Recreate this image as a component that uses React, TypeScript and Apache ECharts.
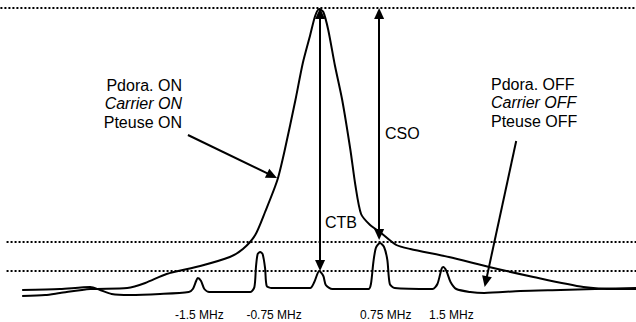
import React, { useEffect, useRef } from "react";
import * as echarts from "echarts";

// x in MHz from the carrier, y in dB relative to the carrier peak
const onCurve: [number, number][] = [
  [-3.63, -72], [-3.35, -71.75], [-3.17, -71.25], [-2.8, -70.25], [-2.35, -70],
  [-2.13, -68.75], [-1.87, -66.5], [-1.46, -64.5], [-1.1, -62.25], [-0.94, -60.25],
  [-0.79, -56.75], [-0.67, -51], [-0.52, -43], [-0.43, -35.5], [-0.3, -23],
  [-0.21, -13.75], [-0.12, -6.75], [-0.06, -2], [-0.01, -0.25], [0.04, -1],
  [0.1, -5.5], [0.18, -14.25], [0.27, -23], [0.37, -35.5], [0.43, -44.25],
  [0.5, -51.5], [0.61, -54.25], [0.73, -56], [0.93, -59.25], [1.1, -60.25],
  [1.57, -62.25], [2.06, -64.75], [2.6, -67.25], [3.21, -69.75], [3.61, -70.25],
  [3.85, -70.25],
];

const offCurve: [number, number][] = [
  [-3.63, -70.5], [-3.17, -70.25], [-2.8, -69.75], [-2.68, -70.5], [-2.54, -71.5],
  [-2.32, -71.75], [-1.95, -71.5], [-1.6, -71], [-1.55, -70.25], [-1.51, -68.25],
  [-1.49, -67.5], [-1.45, -68.25], [-1.41, -70.25], [-1.35, -71], [-0.85, -71],
  [-0.8, -69.75], [-0.78, -64.5], [-0.76, -61.5], [-0.73, -61], [-0.7, -61.5],
  [-0.67, -65], [-0.65, -69.5], [-0.59, -70], [-0.12, -70], [-0.07, -68.5],
  [-0.01, -65.75], [0.04, -67], [0.07, -69.25], [0.15, -70.25], [0.59, -70.25],
  [0.62, -69], [0.65, -63.5], [0.68, -60], [0.73, -58.75], [0.78, -59.75],
  [0.82, -63], [0.85, -69], [0.91, -70], [1.37, -70.25], [1.43, -69],
  [1.48, -65.25], [1.5, -64.75], [1.54, -65.75], [1.59, -68.5], [1.66, -70.25],
  [1.83, -71], [2.0, -71.25], [2.44, -70.75], [2.93, -70.5], [3.85, -70],
];

const tickLabels = ["-1.5 MHz", "-0.75 MHz", "0.75 MHz", "1.5 MHz"];
const tickLabelAt = [-1.47, -0.56, 0.8, 1.6];
const refLevels = [-58.5, -65.75, 0];
const refStarts = [-3.82, -3.82, -3.895];
const ctbArrow = { x: 0, top: -1.4, bottom: -64.4 };
const csoArrow = { x: 0.72, top: -1.4, bottom: -56.6 };
const onPointer = { from: [-1.61, -31.75], to: [-0.585, -41.9] };
const offPointer = { from: [2.39, -33.25], to: [2.02, -68.4] };
const onLabel = ["Pdora. ON", "Carrier ON", "Pteuse ON"];
const offLabel = ["Pdora. OFF", "Carrier OFF", "Pteuse OFF"];

const X_MIN = -3.9;
const X_MAX = 3.85;
const FONT = "'Liberation Sans', Arial, Helvetica, sans-serif";

export default function App() {
  const ref = useRef<HTMLDivElement>(null);
  useEffect(() => {
    if (!ref.current) return;
    const chart = echarts.init(ref.current, undefined, { renderer: "svg" });
    const dotted = { color: "#000", width: 2, type: [2, 2] as any };
    const arrowStyle = { color: "#000", width: 2, type: "solid" as any };
    const mk = (a: number[], b: number[], sa: string, sb: string) => [
      { coord: a, symbol: sa },
      { coord: b, symbol: sb },
    ];
    const textEl = (t: string, x: number, y: number, align: string, italic = false) => ({
      type: "text",
      x,
      y,
      style: {
        text: t,
        fill: "#000",
        font: `${italic ? "italic " : ""}16px ${FONT}`,
        align,
        verticalAlign: "middle",
      },
    });
    const refSeries = refLevels.map((lv, i) => ({
      type: "line",
      data: [
        [refStarts[i], lv],
        [X_MAX, lv],
      ],
      symbol: "none",
      silent: true,
      clip: false,
      lineStyle: dotted,
    }));
    chart.setOption({
      animation: false,
      backgroundColor: "#fff",
      grid: { left: 0, right: 0, top: 4, bottom: 26, outerBoundsMode: "none" },
      xAxis: {
        type: "value",
        min: X_MIN,
        max: X_MAX,
        axisLine: { show: false },
        axisTick: { show: false },
        splitLine: { show: false },
        axisLabel: {
          customValues: tickLabelAt,
          formatter: (v: number) => {
            const i = tickLabelAt.findIndex((p) => Math.abs(p - v) < 1e-6);
            return i >= 0 ? tickLabels[i] : "";
          },
          fontSize: 12,
          lineHeight: 12,
          fontFamily: FONT,
          color: "#000",
          margin: 13,
        },
      },
      yAxis: {
        type: "value",
        min: -72,
        max: 1,
        show: false,
      },
      series: [
        ...refSeries,
        {
          type: "line",
          data: onCurve,
          smooth: 0.25,
          symbol: "none",
          lineStyle: { color: "#000", width: 2 },
        },
        {
          type: "line",
          data: offCurve,
          smooth: 0.25,
          symbol: "none",
          lineStyle: { color: "#000", width: 2 },
          markLine: {
            silent: true,
            symbolSize: [10, 11],
            label: { show: false },
            lineStyle: arrowStyle,
            data: [
              mk([ctbArrow.x, ctbArrow.top], [ctbArrow.x, ctbArrow.bottom], "triangle", "triangle"),
              mk([csoArrow.x, csoArrow.top], [csoArrow.x, csoArrow.bottom], "triangle", "triangle"),
              mk(onPointer.from, onPointer.to, "none", "triangle"),
              mk(offPointer.from, offPointer.to, "none", "triangle"),
            ],
          },
        },
      ],
      graphic: [
        textEl(onLabel[0], 182, 85.3, "right"),
        textEl(onLabel[1], 182, 103.5, "right", true),
        textEl(onLabel[2], 182, 122, "right"),
        textEl(offLabel[0], 491, 84.3, "left"),
        textEl(offLabel[1], 491, 102.3, "left", true),
        textEl(offLabel[2], 491, 121, "left"),
        textEl("CTB", 325, 222, "left"),
        textEl("CSO", 385, 133, "left"),
      ],
    });
    return () => chart.dispose();
  }, []);
  return (
    <div
      ref={ref}
      style={{ position: "absolute", left: 0, top: 0, width: 636, height: 322 }}
    />
  );
}
